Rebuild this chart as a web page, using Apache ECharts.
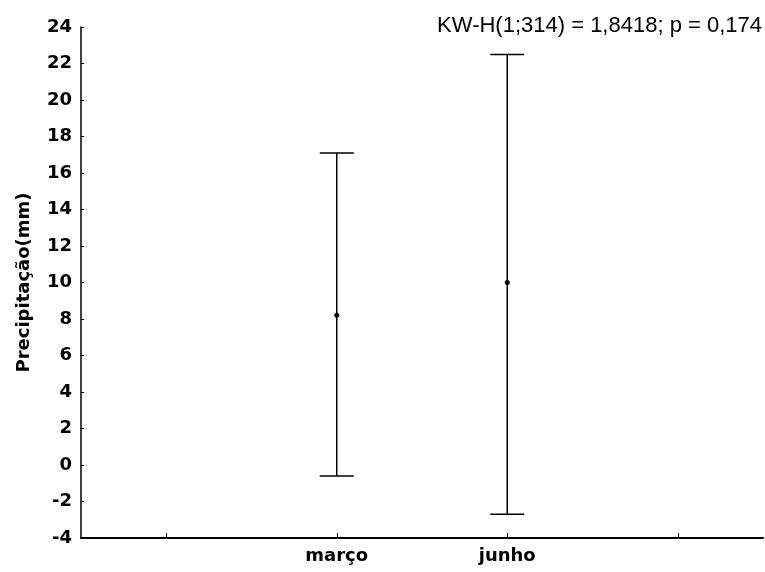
<!DOCTYPE html>
<html>
<head>
<meta charset="utf-8">
<script src="https://cdn.jsdelivr.net/npm/echarts@6/dist/echarts.min.js"></script>
<style>
html, body { margin: 0; padding: 0; background: #fff; }
#chart { width: 765px; height: 572px; }
</style>
</head>
<body>
<div id="chart"></div>
<script>
// categories (empty slots at both ends, as in the original plot)
var categories = ['', 'março', 'junho', ''];
// mean and whisker ends per month
var months = ['março', 'junho'];
var means = [8.2, 10.0];
var lows = [-0.6, -2.7];
var highs = [17.1, 22.5];
var yTicks = { min: -4, max: 24, step: 2 };
var statText = 'KW-H(1;314) = 1,8418; p = 0,174';

var boldFont = '"DejaVu Sans", sans-serif';

var barData = [];
for (var i = 0; i < months.length; i++) {
	barData.push([months[i], lows[i], highs[i], means[i]]);
}

var myChart = echarts.init(document.getElementById('chart'));
var option = {
	animation: false,
	backgroundColor: '#fff',
	grid: {
		left: 81,
		right: 2,
		top: 27,
		bottom: 34
	},
	graphic: [{
		type: 'text',
		right: 3,
		top: 15,
		style: {
			text: statText,
			fill: '#000',
			font: '22px "Liberation Sans", Arial, sans-serif'
		}
	}],
	xAxis: {
		type: 'category',
		data: categories,
		boundaryGap: true,
		axisLine: { onZero: false, lineStyle: { color: '#000', width: 2 } },
		axisTick: { show: true, interval: 0, alignWithLabel: true, inside: true, length: 5, lineStyle: { color: '#000', width: 1 } },
		axisLabel: {
			interval: 0,
			margin: 9,
			color: '#000',
			fontSize: 18,
			fontWeight: 'bold',
			fontFamily: boldFont
		},
		splitLine: { show: false }
	},
	yAxis: {
		type: 'value',
		min: yTicks.min,
		max: yTicks.max,
		interval: yTicks.step,
		name: 'Precipitação(mm)',
		nameLocation: 'middle',
		nameGap: 48,
		nameTextStyle: {
			color: '#000',
			fontSize: 18,
			fontWeight: 'bold',
			fontFamily: boldFont
		},
		axisLine: { show: true, lineStyle: { color: '#000', width: 1.5 } },
		axisTick: { show: true, inside: true, length: 3, lineStyle: { color: '#000' } },
		axisLabel: {
			margin: 9,
			color: '#000',
			fontSize: 18,
			fontWeight: 'bold',
			fontFamily: boldFont
		},
		splitLine: { show: false }
	},
	series: [{
		type: 'custom',
		data: barData,
		renderItem: function (params, api) {
			var x = api.value(0);
			var top = api.coord([x, api.value(2)]);
			var bot = api.coord([x, api.value(1)]);
			var mid = api.coord([x, api.value(3)]);
			var half = 17;
			var ls = { stroke: '#000', lineWidth: 1.5 };
			return {
				type: 'group',
				children: [
					{ type: 'line', shape: { x1: top[0], y1: top[1], x2: bot[0], y2: bot[1] }, style: ls },
					{ type: 'line', shape: { x1: top[0] - half, y1: top[1], x2: top[0] + half, y2: top[1] }, style: ls },
					{ type: 'line', shape: { x1: bot[0] - half, y1: bot[1], x2: bot[0] + half, y2: bot[1] }, style: ls },
					{ type: 'circle', shape: { cx: mid[0], cy: mid[1], r: 2.5 }, style: { fill: '#000' } }
				]
			};
		}
	}]
};
myChart.setOption(option);
</script>
</body>
</html>
